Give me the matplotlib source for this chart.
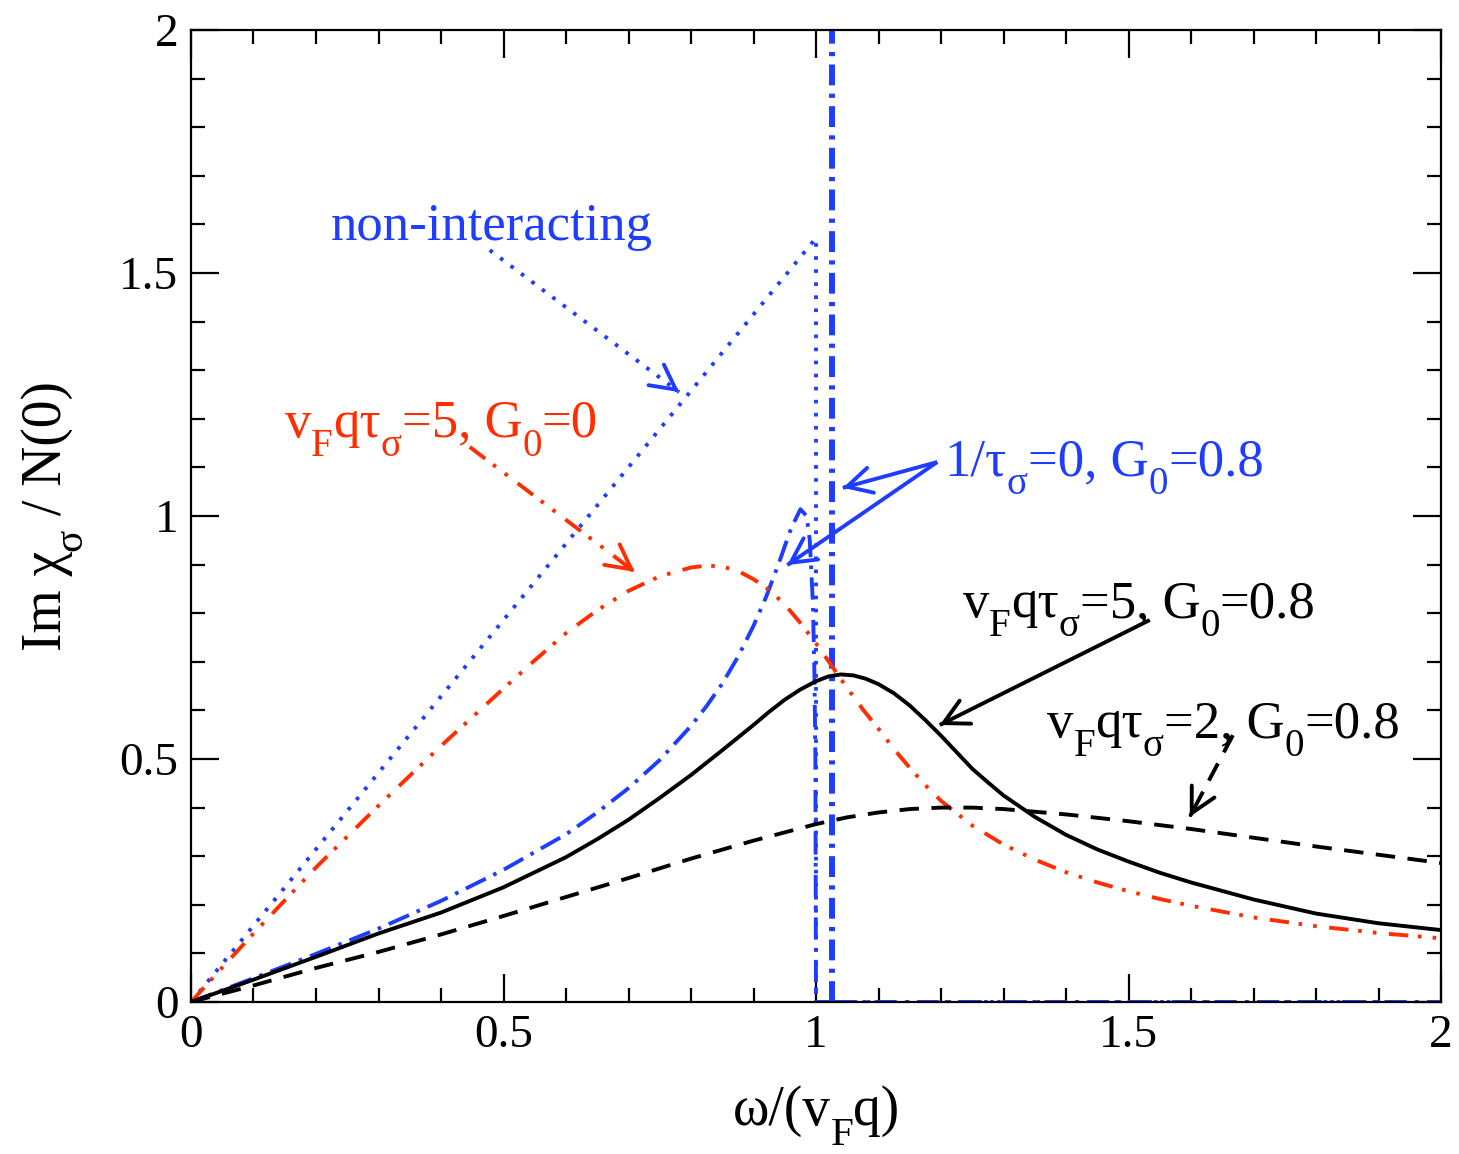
import matplotlib
matplotlib.use('Agg')
import matplotlib.pyplot as plt

plt.rcParams['font.family'] = ['Liberation Serif', 'DejaVu Serif']
plt.rcParams['lines.scale_dashes'] = False

# ---------------- data ----------------
# non-interacting (blue dotted)
x_free = [0.0, 1.0, 1.0, 2.0]
y_free = [0.0, 1.572, 0.0, 0.0]

# 1/tau=0, G0=0.8 (blue dash-dot); last part is the zero-sound delta peak
x_clean = [0.0, 0.1, 0.2, 0.3, 0.4, 0.5, 0.6, 0.65, 0.7, 0.75, 0.8, 0.825,
           0.85, 0.875, 0.9, 0.92, 0.94, 0.96, 0.975, 0.985, 0.99, 0.995,
           0.9975, 0.999, 1.0, 1.025]
y_clean = [0.0, 0.049, 0.099, 0.151, 0.208, 0.272, 0.345, 0.39, 0.44, 0.498,
           0.568, 0.609, 0.655, 0.71, 0.774, 0.833, 0.901, 0.974, 1.014, 1.0,
           0.951, 0.821, 0.675, 0.505, 0.0, 0.0]
x_delta = [1.025, 1.025]
y_delta = [0.0, 2.1]
x_after = [1.025, 2.0]
y_after = [0.0, 0.0]

# vF q tau = 5, G0 = 0 (red dash-dot-dot)
x_red = [0.0, 0.05, 0.1, 0.2, 0.3, 0.4, 0.5, 0.55, 0.6, 0.65, 0.7, 0.75, 0.8,
         0.825, 0.85, 0.875, 0.9, 0.925, 0.95, 0.975, 1.0, 1.025, 1.05, 1.075,
         1.1, 1.125, 1.15, 1.175, 1.2, 1.25, 1.3, 1.35, 1.4, 1.45, 1.5, 1.55,
         1.6, 1.7, 1.8, 1.9, 2.0]
y_red = [0.0, 0.071, 0.141, 0.277, 0.404, 0.527, 0.645, 0.703, 0.759, 0.806,
         0.846, 0.876, 0.894, 0.898, 0.896, 0.887, 0.87, 0.848, 0.818, 0.78,
         0.738, 0.692, 0.646, 0.602, 0.562, 0.52, 0.482, 0.446, 0.414, 0.363,
         0.324, 0.293, 0.267, 0.246, 0.228, 0.212, 0.198, 0.174, 0.156, 0.142,
         0.131]

# vF q tau = 5, G0 = 0.8 (black solid)
x_s5 = [0.0, 0.1, 0.2, 0.3, 0.4, 0.5, 0.6, 0.65, 0.7, 0.75, 0.8, 0.85, 0.9,
        0.925, 0.95, 0.975, 1.0, 1.02, 1.04, 1.06, 1.08, 1.1, 1.125, 1.15,
        1.175, 1.2, 1.225, 1.25, 1.275, 1.3, 1.35, 1.4, 1.45, 1.5, 1.55, 1.6,
        1.7, 1.8, 1.9, 2.0]
y_s5 = [0.0, 0.046, 0.093, 0.141, 0.184, 0.236, 0.298, 0.335, 0.375, 0.42,
        0.467, 0.518, 0.57, 0.597, 0.622, 0.643, 0.66, 0.67, 0.674, 0.672,
        0.665, 0.654, 0.635, 0.61, 0.58, 0.548, 0.514, 0.48, 0.452, 0.425,
        0.381, 0.344, 0.314, 0.289, 0.266, 0.246, 0.211, 0.182, 0.162, 0.148]

# vF q tau = 2, G0 = 0.8 (black dashed)
x_s2 = [0.0, 0.1, 0.2, 0.3, 0.4, 0.5, 0.6, 0.7, 0.8, 0.9, 1.0, 1.05, 1.1,
        1.15, 1.2, 1.25, 1.3, 1.4, 1.5, 1.6, 1.7, 1.8, 1.9, 2.0]
y_s2 = [0.0, 0.034, 0.07, 0.103, 0.139, 0.177, 0.216, 0.255, 0.295, 0.332,
        0.366, 0.38, 0.39, 0.397, 0.4, 0.4, 0.397, 0.386, 0.372, 0.356,
        0.338, 0.32, 0.303, 0.286]

x_ticks = [0, 0.5, 1, 1.5, 2]
x_ticklabels = ['0', '0.5', '1', '1.5', '2']
y_ticks = [0, 0.5, 1, 1.5, 2]
y_ticklabels = ['0', '0.5', '1', '1.5', '2']

BLUE = '#1f3dff'
RED = '#ff2e00'
LW = 2.8
DOT = (0, (2.6, 6.8))
DASHDOT = (0, (16, 6, 2.6, 6))
DASHDOTDOT = (0, (14, 7, 2.6, 8, 2.6, 9))
DASH = (0, (14, 9))

fig = plt.figure(figsize=(14.59, 11.54), dpi=100)
ax = fig.add_axes([191 / 1459, 1 - 1002 / 1154, 1250 / 1459, 972 / 1154])

ax.plot(x_free, y_free, color=BLUE, lw=LW, linestyle=DOT)
ax.plot(x_clean, y_clean, color=BLUE, lw=LW, linestyle=DASHDOT)
ax.plot(x_delta, y_delta, color=BLUE, lw=4.3, linestyle=(0, (15, 6, 3, 6)))
ax.plot(x_after, y_after, color=BLUE, lw=LW, linestyle=DASHDOT)
ax.plot(x_red, y_red, color=RED, lw=LW, linestyle=DASHDOTDOT)
ax.plot(x_s5, y_s5, color='black', lw=LW)
ax.plot(x_s2, y_s2, color='black', lw=LW, linestyle=DASH)

ax.set_xlim(0, 2)
ax.set_ylim(0, 2)
ax.set_xticks(x_ticks)
ax.set_xticklabels(x_ticklabels)
ax.set_yticks(y_ticks)
ax.set_yticklabels(y_ticklabels)
ax.set_xticks([i / 10 for i in range(21)], minor=True)
ax.set_yticks([i / 10 for i in range(21)], minor=True)
ax.tick_params(which='both', direction='in', top=True, right=True, width=1.6,
               labelsize=34, pad=9)
ax.tick_params(which='major', length=20)
ax.tick_params(which='minor', length=10)
for s in ax.spines.values():
    s.set_linewidth(1.6)

renderer = fig.canvas.get_renderer()
SUB_SCALE = 0.74
SUB_DROP = 0.36


def rich(x, y, parts, color, fs, coords='data', rotation=0, center=False):
    """Draw text made of (string, is_subscript) parts, left to right."""
    def build(start):
        arts = []
        off = start
        for s, sub in parts:
            size = fs * SUB_SCALE if sub else fs
            drop = -fs * SUB_DROP if sub else 0.0
            if rotation == 0:
                dx, dy = off, drop
            else:
                dx, dy = -drop, off
            t = ax.annotate(s, xy=(x, y), xycoords=coords, xytext=(dx, dy),
                            textcoords='offset points', fontsize=size,
                            color=color, rotation=rotation, ha='left',
                            va='baseline', rotation_mode='anchor',
                            annotation_clip=False)
            bb = t.get_window_extent(renderer)
            w = (bb.width if rotation == 0 else bb.height) * 72.0 / fig.dpi
            off += w
            arts.append(t)
        return arts, off - start

    arts, total = build(0.0)
    if center:
        for a in arts:
            a.remove()
        build(-total / 2.0)


def arrow(x0, y0, x1, y1, color, ls):
    ax.plot([x0, x1], [y0, y1], color=color, lw=LW, linestyle=ls,
            solid_capstyle='butt')
    ax.annotate('', xy=(x1, y1),
                xytext=(x1 - (x1 - x0) * 0.02, y1 - (y1 - y0) * 0.02),
                arrowprops=dict(arrowstyle='->,head_length=0.8,head_width=0.42',
                                color=color, lw=LW, shrinkA=0, shrinkB=0,
                                mutation_scale=22))


LFS = 40
# x-axis label, centred under the axes
rich(816 / 1459, 1 - 1125 / 1154,
     [('ω/(v', 0), ('F', 1), ('q)', 0)], 'black', LFS,
     coords='figure fraction', center=True)
# y-axis label, rotated
rich(61 / 1459, 1 - 516 / 1154,
     [('Im χ', 0), ('σ', 1), (' / N(0)', 0)], 'black', LFS,
     coords='figure fraction', rotation=90, center=True)

TFS = 38
ax.text(0.224, 1.568, 'non-interacting', color=BLUE, fontsize=TFS,
        ha='left', va='baseline')
arrow(0.478, 1.547, 0.781, 1.255, BLUE, DOT)

rich(0.150, 1.163, [('v', 0), ('F', 1), ('qτ', 0), ('σ', 1), ('=5, G', 0),
                    ('0', 1), ('=0', 0)], RED, TFS)
arrow(0.446, 1.142, 0.710, 0.885, RED, DASHDOTDOT)

rich(1.206, 1.084, [('1/τ', 0), ('σ', 1), ('=0, G', 0), ('0', 1),
                    ('=0.8', 0)], BLUE, TFS)
arrow(1.194, 1.111, 1.043, 1.058, BLUE, '-')
arrow(1.194, 1.111, 0.954, 0.899, BLUE, '-')

rich(1.235, 0.792, [('v', 0), ('F', 1), ('qτ', 0), ('σ', 1), ('=5, G', 0),
                    ('0', 1), ('=0.8', 0)], 'black', TFS)
arrow(1.534, 0.786, 1.198, 0.570, 'black', '-')

rich(1.370, 0.545, [('v', 0), ('F', 1), ('qτ', 0), ('σ', 1), ('=2, G', 0),
                    ('0', 1), ('=0.8', 0)], 'black', TFS)
arrow(1.667, 0.549, 1.598, 0.381, 'black', DASH)

fig.savefig('out.png', dpi=100)
